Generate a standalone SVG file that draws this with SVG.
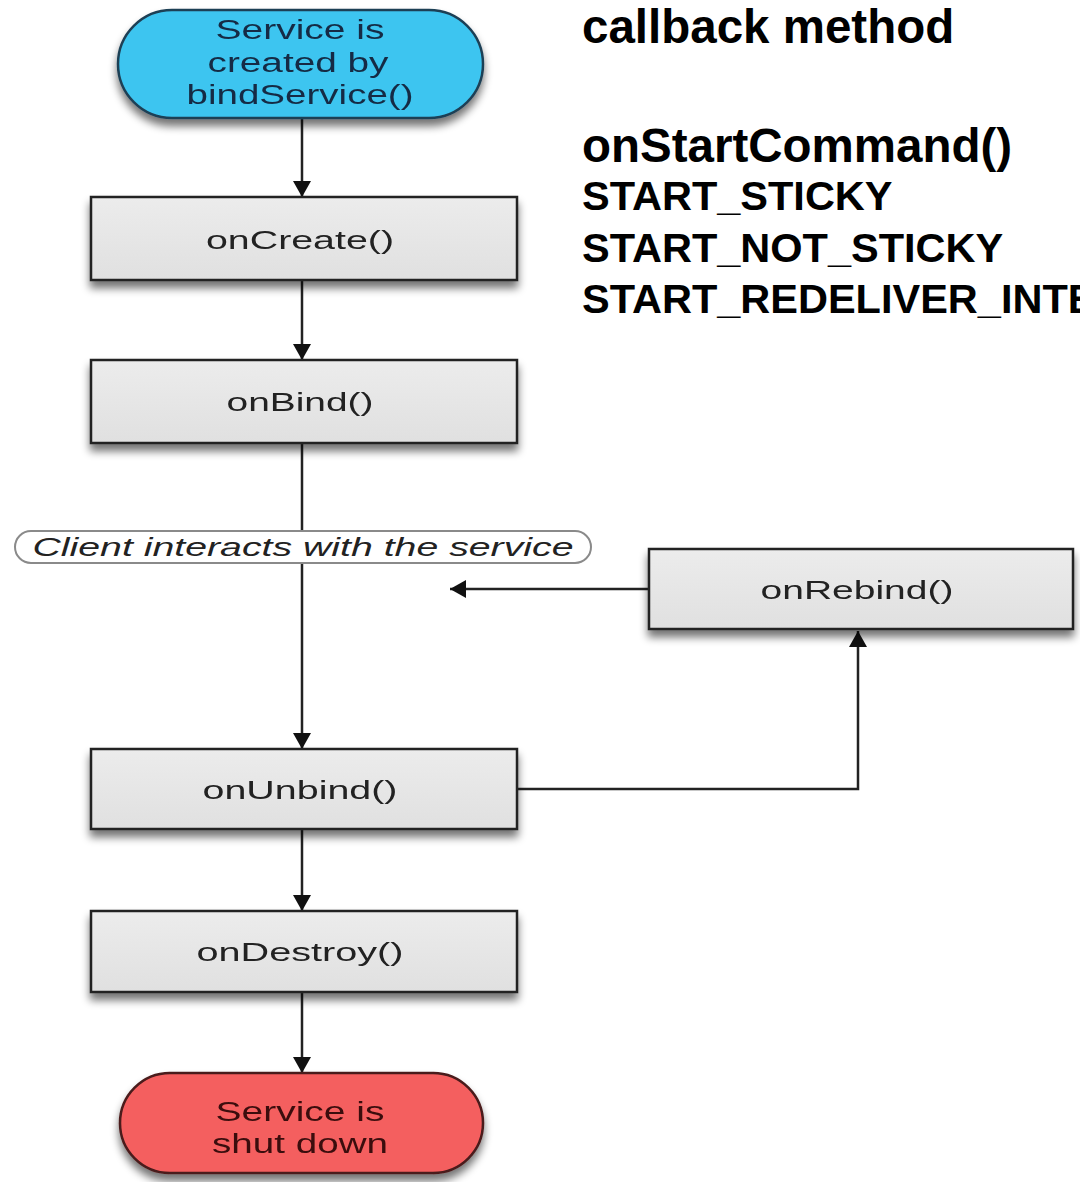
<svg xmlns="http://www.w3.org/2000/svg" width="1080" height="1182" viewBox="0 0 1080 1182">
  <defs>
    <filter id="shadow" x="-10%" y="-20%" width="120%" height="160%">
      <feGaussianBlur in="SourceAlpha" stdDeviation="4"/>
      <feOffset dx="0" dy="7" result="b"/>
      <feComponentTransfer><feFuncA type="linear" slope="0.55"/></feComponentTransfer>
      <feMerge><feMergeNode/><feMergeNode in="SourceGraphic"/></feMerge>
    </filter>
    <linearGradient id="boxFill" x1="0" y1="0" x2="0" y2="1">
      <stop offset="0" stop-color="#ececec"/>
      <stop offset="1" stop-color="#e0e0e0"/>
    </linearGradient>
    <marker id="arrow" viewBox="0 0 16 18" refX="16" refY="9" markerWidth="16" markerHeight="18" markerUnits="userSpaceOnUse" orient="auto">
      <path d="M0,0 L16,9 L0,18 Z" fill="#111"/>
    </marker>
    <style>
      .box { fill: url(#boxFill); stroke: #222; stroke-width: 2.5; }
      .lbl { font-family: "Liberation Sans", Arial, sans-serif; font-size: 26px; fill: #222; text-anchor: middle; }
      .start { fill: #3dc5f0; stroke: #1f3f55; stroke-width: 2.5; }
      .end { fill: #f45f5f; stroke: #4a1a1a; stroke-width: 2.5; }
      .startText { fill: #132c44; font-size: 27px; }
      .endText { fill: #3a0e0e; font-size: 27px; }
      .edge { fill: none; stroke: #222; stroke-width: 2.5; }
      .note { font-family: "Liberation Sans", Arial, sans-serif; font-weight: bold; fill: #000; }
    </style>
  </defs>

  <rect width="1080" height="1182" fill="#ffffff"/>

  <!-- connectors -->
  <g id="connectors">
    <line class="edge" x1="302" y1="118" x2="302" y2="197" marker-end="url(#arrow)"/>
    <line class="edge" x1="302" y1="280" x2="302" y2="360" marker-end="url(#arrow)"/>
    <line class="edge" x1="302" y1="443" x2="302" y2="749" marker-end="url(#arrow)"/>
    <line class="edge" x1="302" y1="829" x2="302" y2="911" marker-end="url(#arrow)"/>
    <line class="edge" x1="302" y1="992" x2="302" y2="1073" marker-end="url(#arrow)"/>
    <line class="edge" x1="649" y1="589" x2="450" y2="589" marker-end="url(#arrow)"/>
    <polyline class="edge" points="517,789 858,789 858,631" marker-end="url(#arrow)"/>
  </g>

  <!-- start terminal -->
  <g id="node-start" filter="url(#shadow)">
    <rect class="start" x="118" y="10" width="365" height="108" rx="54" ry="54"/>
    <text class="lbl startText" x="300" y="39" textLength="169" lengthAdjust="spacingAndGlyphs">Service is</text>
    <text class="lbl startText" x="298" y="72" textLength="181" lengthAdjust="spacingAndGlyphs">created by</text>
    <text class="lbl startText" x="300" y="104" textLength="227" lengthAdjust="spacingAndGlyphs">bindService()</text>
  </g>

  <g id="node-onCreate" filter="url(#shadow)">
    <rect class="box" x="91" y="197" width="426" height="83"/>
    <text class="lbl" x="300" y="249" textLength="188" lengthAdjust="spacingAndGlyphs">onCreate()</text>
  </g>

  <g id="node-onBind" filter="url(#shadow)">
    <rect class="box" x="91" y="360" width="426" height="83"/>
    <text class="lbl" x="300" y="411" textLength="147" lengthAdjust="spacingAndGlyphs">onBind()</text>
  </g>

  <g id="node-client">
    <rect x="15" y="531" width="576" height="32" rx="16" ry="16" fill="#ffffff" stroke="#8a8a8a" stroke-width="2"/>
    <text class="lbl" x="303" y="556" font-style="italic" fill="#333" textLength="541" lengthAdjust="spacingAndGlyphs">Client interacts with the service</text>
  </g>

  <g id="node-onRebind" filter="url(#shadow)">
    <rect class="box" x="649" y="549" width="424" height="80"/>
    <text class="lbl" x="857" y="599" textLength="193" lengthAdjust="spacingAndGlyphs">onRebind()</text>
  </g>

  <g id="node-onUnbind" filter="url(#shadow)">
    <rect class="box" x="91" y="749" width="426" height="80"/>
    <text class="lbl" x="300" y="799" textLength="195" lengthAdjust="spacingAndGlyphs">onUnbind()</text>
  </g>

  <g id="node-onDestroy" filter="url(#shadow)">
    <rect class="box" x="91" y="911" width="426" height="81"/>
    <text class="lbl" x="300" y="961" textLength="207" lengthAdjust="spacingAndGlyphs">onDestroy()</text>
  </g>

  <!-- end terminal -->
  <g id="node-end" filter="url(#shadow)">
    <rect class="end" x="120" y="1073" width="363" height="100" rx="50" ry="50"/>
    <text class="lbl endText" x="300" y="1121" textLength="169" lengthAdjust="spacingAndGlyphs">Service is</text>
    <text class="lbl endText" x="300" y="1153" textLength="176" lengthAdjust="spacingAndGlyphs">shut down</text>
  </g>

  <!-- side notes -->
  <g id="notes">
    <text class="note" x="582" y="43" font-size="47.5">callback method</text>
    <text class="note" x="582" y="162" font-size="47.5">onStartCommand()</text>
    <text class="note" x="582" y="210" font-size="41.5">START_STICKY</text>
    <text class="note" x="582" y="262" font-size="41.5">START_NOT_STICKY</text>
    <text class="note" x="582" y="313" font-size="41.5">START_REDELIVER_INTENT</text>
  </g>
</svg>
